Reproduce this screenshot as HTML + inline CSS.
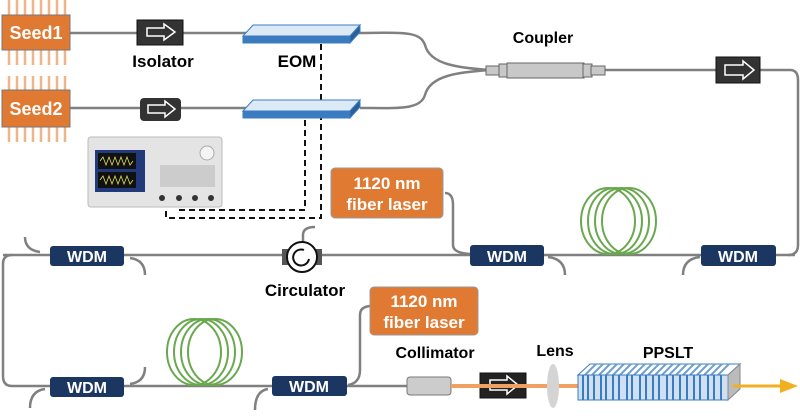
<!DOCTYPE html>
<html><head><style>
body{margin:0;background:#fff;width:800px;height:414px;overflow:hidden}
text{font-family:"Liberation Sans",Arial,sans-serif;font-weight:bold}
</style></head><body>
<svg width="800" height="414" viewBox="0 0 800 414" xmlns="http://www.w3.org/2000/svg">
<g fill="none" stroke="#808080" stroke-width="2.5">
<path d="M70 33 H250"/><path d="M70 108 H250"/>
<path d="M355 33 C400 33 420 30 425 45 C430 65 460 68 490 70"/>
<path d="M360 108 C400 108 420 110 425 95 C430 75 460 72 490 70"/>
<path d="M600 70 H790 Q798 70 798 80 V245 Q798 255 788 255"/>
<path d="M3 255 H795"/>
<path d="M12 255 Q3 255 3 264 V376 Q3 386 12 386 H407"/>
<path d="M25 237 Q25 250 40 252"/><path d="M130 258 Q145 260 145 275"/>
<path d="M130 384 Q145 382 145 367"/><path d="M45 389 Q30 391 30 408"/>
<path d="M445 193 Q453 193 453 205 V245 Q453 253 470 254"/>
<path d="M548 257 Q565 259 565 275"/><path d="M700 257 Q683 259 683 275"/>
<path d="M360 315 Q360 306 372 306"/><path d="M348 385 Q360 383 360 370 V315"/>
<path d="M268 389 Q255 391 255 410"/>
<path d="M303 243 V235 Q303 227 315 227"/>
</g>
<g fill="none" stroke="#111" stroke-width="2" stroke-dasharray="6,4">
<path d="M321 44 V218 H166 V205"/><path d="M305 120 V210 H180 V203"/>
</g>
<g stroke="#f0b48a" stroke-width="2.5">
<path d="M9 0V15M17 0V15M25 0V15M33 0V15M41 0V15M49 0V15M57 0V15M65 0V15"/>
<path d="M9 50V65M17 50V65M25 50V65M33 50V65M41 50V65M49 50V65M57 50V65M65 50V65"/>
<path d="M9 76V90M17 76V90M25 76V90M33 76V90M41 76V90M49 76V90M57 76V90M65 76V90"/>
<path d="M9 127V142M17 127V142M25 127V142M33 127V142M41 127V142M49 127V142M57 127V142M65 127V142"/>
</g>
<rect x="2" y="15" width="68" height="35" fill="#e07a33" stroke="#777"/>
<rect x="2" y="90" width="68" height="37" fill="#e07a33" stroke="#777"/>
<text x="36" y="39" fill="#fff" font-size="18" text-anchor="middle">Seed1</text>
<text x="36" y="115" fill="#fff" font-size="18" text-anchor="middle">Seed2</text>
<g>
<rect x="137" y="20" width="46" height="25" fill="#333" stroke="#111"/>
<rect x="140" y="98" width="41" height="23" rx="4" fill="#333"/>
<rect x="716" y="57" width="44" height="26" fill="#333" stroke="#111"/>
<rect x="480" y="373" width="46" height="25" fill="#222" stroke="#111"/>
<g fill="none" stroke="#fff" stroke-width="1.5">
<path d="M147 28h17v-4l11 8-11 8v-4h-17z"/>
<path d="M148 105h17v-4l10 8-10 8v-4h-17z"/>
<path d="M725 65h18v-4l11 9-11 9v-4h-18z"/>
<path d="M490 380h17v-4l11 9-11 9v-4h-17z"/>
</g></g>
<text x="163" y="67" font-size="17" text-anchor="middle">Isolator</text>
<text x="297" y="67" font-size="17" text-anchor="middle">EOM</text>
<g stroke="#3a7cbf" stroke-width="1">
<polygon points="243,36 253,25 360,25 350,36" fill="#dce9f6"/>
<rect x="243" y="36" width="107" height="7" fill="#3a7cbf"/>
<polygon points="350,36 360,25 360,32 350,43" fill="#2a5f99"/>
<polygon points="243,111 253,100 360,100 350,111" fill="#dce9f6"/>
<rect x="243" y="111" width="107" height="7" fill="#3a7cbf"/>
<polygon points="350,111 360,100 360,107 350,118" fill="#2a5f99"/>
</g>
<text x="543" y="43" font-size="16" text-anchor="middle">Coupler</text>
<g fill="#c8c8c8" stroke="#666">
<rect x="486" y="66" width="14" height="9"/><rect x="499" y="64" width="9" height="13"/>
<rect x="507" y="63" width="77" height="15"/><rect x="583" y="64" width="9" height="13"/>
<rect x="591" y="66" width="14" height="9"/>
</g>
<rect x="88" y="137" width="134" height="70" rx="3" fill="#e4e4e4" stroke="#bbb"/>
<rect x="95" y="150" width="50" height="42" fill="#223a7a"/>
<rect x="98" y="153" width="38" height="16" fill="#111"/><rect x="98" y="172" width="38" height="16" fill="#111"/>
<path d="M100 161 l3 -4 3 8 3 -8 3 8 3 -8 3 8 3 -8 3 8 3-8 3 8 3-4M100 180 l3 -4 3 8 3 -8 3 8 3 -8 3 8 3 -8 3 8 3-8 3 8 3-4" stroke="#e0e060" fill="none" stroke-width="0.8"/>
<circle cx="207" cy="153" r="7" fill="#f4f4f4" stroke="#aaa"/>
<rect x="160" y="165" width="55" height="22" fill="#ccc"/>
<g fill="#333"><circle cx="162" cy="198" r="3"/><circle cx="179" cy="198" r="3"/><circle cx="195" cy="198" r="3"/><circle cx="211" cy="198" r="3"/></g>
<g fill="#1b3661">
<rect x="50" y="246" width="74" height="20" rx="3"/>
<rect x="470" y="245" width="74" height="21" rx="3"/>
<rect x="701" y="245" width="75" height="21" rx="3"/>
<rect x="50" y="377" width="74" height="20" rx="3"/>
<rect x="272" y="376" width="75" height="20" rx="3"/>
</g>
<g fill="#fff" font-size="16" text-anchor="middle">
<text x="87" y="262">WDM</text><text x="507" y="262">WDM</text><text x="738" y="262">WDM</text>
<text x="87" y="393">WDM</text><text x="309" y="392">WDM</text>
</g>
<rect x="282" y="249" width="40" height="16" fill="#555"/>
<circle cx="302" cy="257" r="15" fill="#fff" stroke="#111" stroke-width="2"/>
<path d="M309 259 A8 8 0 1 1 304 250" fill="none" stroke="#111" stroke-width="2"/>
<text x="305" y="296" font-size="17" text-anchor="middle">Circulator</text>
<g fill="none" stroke="#6aa84f" stroke-width="2">
<ellipse cx="608" cy="221" rx="27" ry="33"/><ellipse cx="615" cy="221" rx="27" ry="33"/>
<ellipse cx="622" cy="221" rx="27" ry="33"/><ellipse cx="629" cy="221" rx="27" ry="33"/>
<ellipse cx="194" cy="352" rx="27" ry="33"/><ellipse cx="201" cy="352" rx="27" ry="33"/>
<ellipse cx="208" cy="352" rx="27" ry="33"/><ellipse cx="215" cy="352" rx="27" ry="33"/>
</g>
<rect x="331" y="168" width="112" height="50" rx="4" fill="#e07a33" stroke="#999"/>
<text x="387" y="189" fill="#fff" font-size="17" text-anchor="middle">1120 nm</text>
<text x="387" y="210" fill="#fff" font-size="17" text-anchor="middle">fiber laser</text>
<rect x="370" y="287" width="108" height="48" rx="4" fill="#e07a33" stroke="#999"/>
<text x="424" y="307" fill="#fff" font-size="17" text-anchor="middle">1120 nm</text>
<text x="424" y="328" fill="#fff" font-size="17" text-anchor="middle">fiber laser</text>
<text x="435" y="358" font-size="16" text-anchor="middle">Collimator</text>
<text x="555" y="356" font-size="16" text-anchor="middle">Lens</text>
<text x="668" y="358" font-size="16" text-anchor="middle">PPSLT</text>
<rect x="407" y="377" width="44" height="18" rx="3" fill="#ccc" stroke="#777"/>
<line x1="451" y1="386" x2="580" y2="386" stroke="#f0a060" stroke-width="4"/>
<ellipse cx="553" cy="386" rx="6" ry="22" fill="#d4d4d4"/>
<polygon points="578,375 590,364 740,364 728,375" fill="#fff" stroke="#3a7cbf"/>
<path d="M585 375l11-11M592 375l11-11M599 375l11-11M606 375l11-11M613 375l11-11M620 375l11-11M627 375l11-11M634 375l11-11M641 375l11-11M648 375l11-11M655 375l11-11M662 375l11-11M669 375l11-11M676 375l11-11M683 375l11-11M690 375l11-11M697 375l11-11M704 375l11-11M711 375l11-11M718 375l11-11" stroke="#6fa0d0" stroke-width="2"/>
<rect x="578" y="375" width="150" height="25" fill="#cfe0f2" stroke="#3a7cbf"/>
<path d="M583 375v25M588 375v25M594 375v25M601 375v25M606 375v25M613 375v25M619 375v25M627 375v25M632 375v25M640 375v25M646 375v25M653 375v25M659 375v25M667 375v25M673 375v25M680 375v25M687 375v25M694 375v25M700 375v25M708 375v25M714 375v25M721 375v25" stroke="#3a7cbf" stroke-width="2"/>
<polygon points="728,375 740,364 740,389 728,400" fill="#bbb" stroke="#888"/>
<line x1="733" y1="386" x2="785" y2="386" stroke="#f0b020" stroke-width="3"/>
<polygon points="780,379 798,386 780,393" fill="#f0b020"/>
</svg>
</body></html>
